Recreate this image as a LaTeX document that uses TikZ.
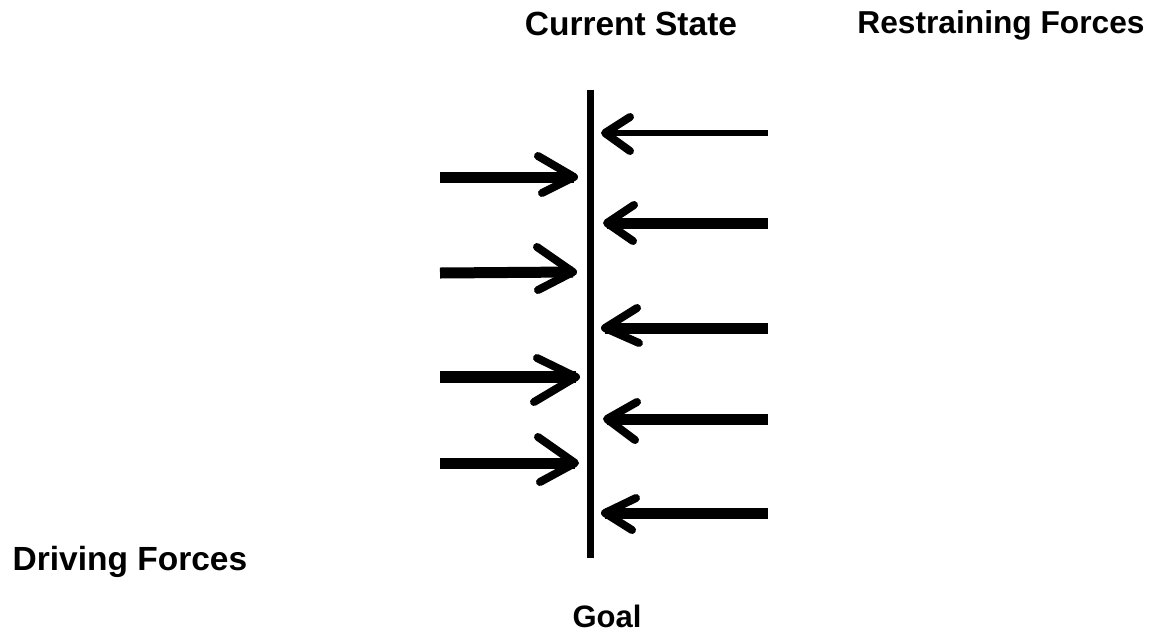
\documentclass[tikz,border=0pt]{standalone}
\usepackage{fontspec}
\setmainfont{Liberation Sans}
\begin{document}
\begin{tikzpicture}[x=1pt,y=-1pt,
  label/.style={font=\bfseries\fontsize{33.5}{38}\selectfont, inner sep=0pt, anchor=base},
  barrier/.style={line width=7pt},
  shaft/.style={line width=11pt},
  thinshaft/.style={line width=6.5pt},
  barb/.style={line width=8pt, line cap=round, line join=round}]
\useasboundingbox (0,0) rectangle (1152,633);

% labels
\node[label] (cur)  at (631,35)  {Current State};
\node[label, font=\bfseries\fontsize{31.7}{36}\selectfont] (res) at (1001,33) {Restraining Forces};
\node[label] (drv)  at (130,570) {Driving Forces};
\node[label, font=\bfseries\fontsize{31}{36}\selectfont] (goal) at (607,627) {Goal};

% the line between the two sets of forces
\coordinate (top) at (590,90);
\coordinate (bot) at (590,558);
\draw[barrier] (top) -- (bot);

% restraining forces, pushing left
\coordinate (r1t) at (768,133); \coordinate (r1h) at (605,133);
\draw[thinshaft] (r1t) -- (r1h);
\draw[barb] (630,117) -- (r1h) -- (630,151);

\coordinate (r2t) at (768,223); \coordinate (r2h) at (607,223);
\draw[shaft] (r2t) -- (r2h);
\draw[barb] (634,205) -- (r2h) -- (633,241);

\coordinate (r3t) at (768,328); \coordinate (r3h) at (605,328);
\draw[shaft] (r3t) -- (r3h);
\draw[barb] (637,308) -- (r3h) -- (639,343);

\coordinate (r4t) at (768,419); \coordinate (r4h) at (607,419);
\draw[shaft] (r4t) -- (r4h);
\draw[barb] (637,402) -- (r4h) -- (635,440);

\coordinate (r5t) at (768,513); \coordinate (r5h) at (605,513);
\draw[shaft] (r5t) -- (r5h);
\draw[barb] (636,498) -- (r5h) -- (632,530);

% driving forces, pushing right
\coordinate (d1t) at (440,177); \coordinate (d1h) at (574,177);
\draw[shaft] (d1t) -- (d1h);
\draw[barb] (538,156) -- (d1h) -- (542,193);

\coordinate (d2t) at (440,273); \coordinate (d2h) at (573,272);
\draw[shaft] (d2t) -- (d2h);
\draw[barb] (537,247) -- (d2h) -- (538,290);

\coordinate (d3t) at (440,377); \coordinate (d3h) at (576,377);
\draw[line width=12pt] (d3t) -- (d3h);
\draw[barb] (537,358) -- (d3h) -- (534,402);

\coordinate (d4t) at (440,463); \coordinate (d4h) at (575,463);
\draw[shaft] (d4t) -- (d4h);
\draw[barb] (538,437) -- (d4h) -- (540,482);
\end{tikzpicture}
\end{document}
